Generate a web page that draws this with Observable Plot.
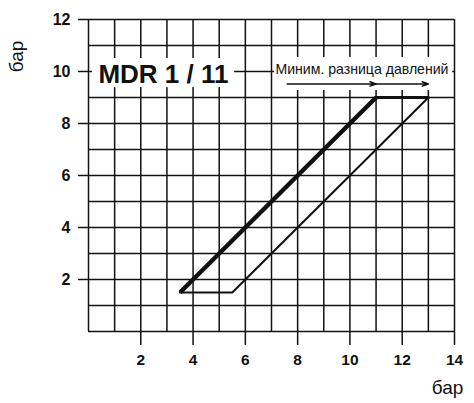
<!DOCTYPE html>
<html>
<head>
<meta charset="utf-8">
<script src="https://cdn.jsdelivr.net/npm/d3@7"></script>
<script src="https://cdn.jsdelivr.net/npm/@observablehq/plot@0.6"></script>
<style>
  html, body { margin: 0; padding: 0; background: #fff; }
  #chart { width: 474px; height: 403px; }
</style>
</head>
<body>
<div id="chart"></div>
<script>
// Grid and tick values
const gridX = d3.range(0, 15);          // vertical grid lines 0..14
const gridY = d3.range(0, 13);          // horizontal grid lines 0..12
const xTicks = [2, 4, 6, 8, 10, 12, 14];
const yTicks = [2, 4, 6, 8, 10, 12];

// Operating area outline (inlet pressure x, outlet pressure y)
const cornerX = [3.5, 11, 13, 5.5];
const cornerY = [1.5, 9, 9, 1.5];

// Texts
const titleText = "MDR 1 / 11";
const noteText = "Миним. разница давлений";
const unitText = "бар";

// Minimum pressure difference arrows (x start, x end)
const arrowFrom = [7.6, 11];
const arrowTo = [11, 13];

const pts = cornerX.map((x, i) => ({x, y: cornerY[i]}));
const outline = [...pts, pts[0]];
const thickEdge = [pts[0], pts[1]];
const topEdge = [pts[1], pts[2]];
const arrows = arrowFrom.map((x1, i) => ({x1, x2: arrowTo[i]}));

const ink = "#111";

const plot = Plot.plot({
  width: 474,
  height: 403,
  marginLeft: 88,
  marginRight: 20,
  marginTop: 19,
  marginBottom: 72,
  style: {fontFamily: "'Liberation Sans', Arial, sans-serif", background: "#fff", color: ink},
  x: {domain: [0, 14]},
  y: {domain: [0, 12]},
  marks: [
    Plot.ruleX(gridX, {x: d => d, y1: 0, y2: 12, stroke: ink, strokeWidth: 1.5}),
    Plot.ruleY(gridY, {y: d => d, x1: 0, x2: 14, stroke: ink, strokeWidth: 1.5}),
    Plot.axisX({ticks: xTicks, tickSize: 14, tickPadding: 8, fontSize: 15.5, fontWeight: "bold",
      strokeWidth: 1.5, tickFormat: d => String(d), label: null}),
    Plot.axisY({ticks: yTicks, tickSize: 10, tickPadding: 8, fontSize: 16, fontWeight: "bold",
      strokeWidth: 1.5, tickFormat: d => String(d), label: null}),
    // white label boxes over the grid
    Plot.rect([0], {x1: 0.15, x2: 5.59, y1: 9.38, y2: 10.5, fill: "white"}),
    Plot.rect([0], {x1: 7.12, x2: 13.93, y1: 9.27, y2: 10.54, fill: "white"}),
    Plot.text([titleText], {x: 0.38, y: 9.88, text: d => d, textAnchor: "start",
      fontSize: 26, fontWeight: "bold", fill: ink}),
    Plot.text([noteText], {x: 7.15, y: 10.08, text: d => d, textAnchor: "start",
      fontSize: 14.1, fill: ink}),
    Plot.arrow(arrows, {x1: "x1", x2: "x2", y1: 9.52, y2: 9.52, stroke: ink,
      strokeWidth: 1.4, headLength: 7, headAngle: 40}),
    // outline
    Plot.line(outline, {x: "x", y: "y", stroke: ink, strokeWidth: 2, strokeLinejoin: "miter"}),
    Plot.line(topEdge, {x: "x", y: "y", stroke: ink, strokeWidth: 3}),
    Plot.line(thickEdge, {x: "x", y: "y", stroke: ink, strokeWidth: 4.5, strokeLinecap: "butt"}),
    // unit labels
    Plot.text([unitText], {frameAnchor: "top-left", text: d => d, dx: -72, dy: 37, rotate: -90,
      textAnchor: "middle", lineAnchor: "middle", fontSize: 19, fill: ink}),
    Plot.text([unitText], {frameAnchor: "bottom-right", text: d => d, dx: -7, dy: 56,
      textAnchor: "middle", lineAnchor: "middle", fontSize: 19, fill: ink})
  ]
});
document.getElementById("chart").appendChild(plot);
</script>
</body>
</html>
